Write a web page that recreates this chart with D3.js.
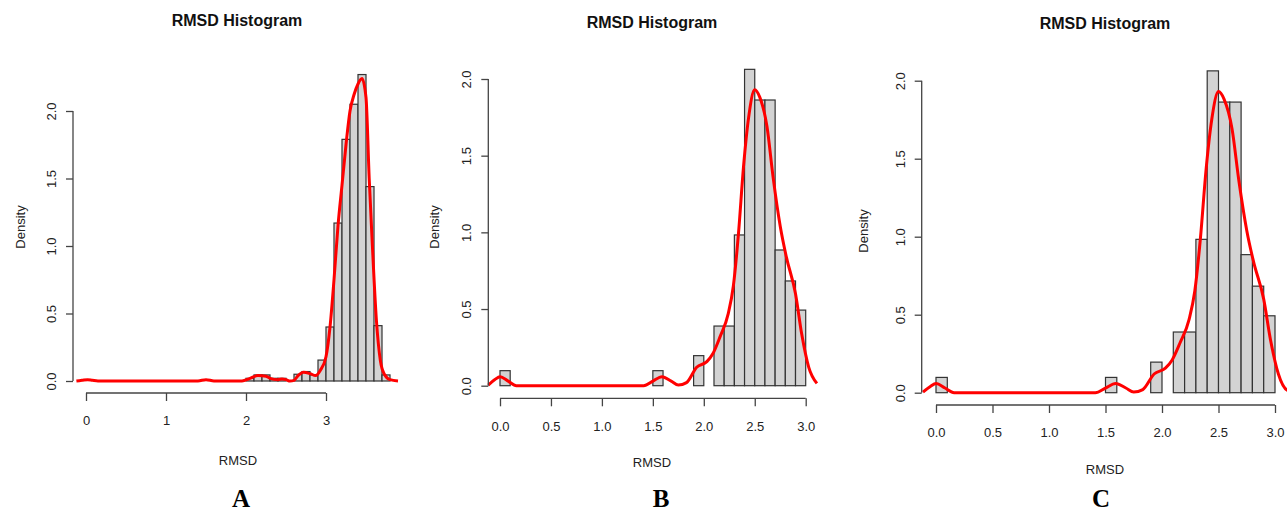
<!DOCTYPE html>
<html>
<head>
<meta charset="utf-8">
<script src="https://cdn.jsdelivr.net/npm/d3@7"></script>
<style>
  body { margin: 0; background: #fff; }
  svg { display: block; }
  .tick text { font-family: "Liberation Sans", Arial, sans-serif; fill: #222; }
</style>
</head>
<body>
<script>
'use strict';

// panel A histogram (bin width 0.1)
const binsA = [2.0, 2.1, 2.2, 2.3, 2.4, 2.6, 2.7, 2.8, 2.9, 3.0, 3.1, 3.2, 3.3, 3.4, 3.5, 3.6, 3.7];
const densA = [0.02, 0.045, 0.045, 0.02, 0.02, 0.05, 0.07, 0.045, 0.155, 0.40, 1.17, 1.79, 2.05, 2.27, 1.44, 0.41, 0.045];
// panel A density curve
const kxA = [-0.12, -0.05, 0.02, 0.08, 0.15, 1.4, 1.5, 1.6, 1.95, 2.05, 2.15, 2.25, 2.3, 2.4, 2.45, 2.5, 2.55, 2.6, 2.65, 2.72, 2.8, 2.87, 2.93, 3.0, 3.05, 3.1, 3.15, 3.2, 3.25, 3.3, 3.35, 3.4, 3.45, 3.5, 3.54, 3.58, 3.63, 3.68, 3.73, 3.8, 3.9];
const kyA = [0, 0.005, 0.01, 0.005, 0, 0, 0.01, 0, 0, 0.02, 0.04, 0.035, 0.02, 0.01, 0.015, 0.01, 0, 0.005, 0.04, 0.065, 0.055, 0.04, 0.08, 0.18, 0.4, 0.75, 1.15, 1.45, 1.75, 2.0, 2.12, 2.2, 2.24, 2.1, 1.5, 1.0, 0.45, 0.15, 0.05, 0.01, 0];

// panel B histogram
const binsB = [0.0, 1.5, 1.9, 2.1, 2.2, 2.3, 2.4, 2.5, 2.6, 2.7, 2.8, 2.9];
const densB = [0.098, 0.098, 0.196, 0.389, 0.389, 0.983, 2.063, 1.863, 1.863, 0.885, 0.683, 0.493];
const kxB = [-0.115, -0.05, 0.0, 0.08, 0.16, 1.41, 1.5, 1.59, 1.68, 1.75, 1.83, 1.93, 2.03, 2.09, 2.16, 2.24, 2.29, 2.34, 2.39, 2.44, 2.5, 2.55, 2.62, 2.68, 2.75, 2.81, 2.9, 2.96, 3.03, 3.11];
const kyB = [0.004, 0.04, 0.059, 0.03, 0, 0, 0.03, 0.059, 0.03, 0.004, 0.02, 0.12, 0.157, 0.21, 0.32, 0.47, 0.65, 0.99, 1.43, 1.75, 1.93, 1.88, 1.69, 1.36, 1.04, 0.84, 0.6, 0.34, 0.12, 0.015];

// panel C histogram (same run as B)
const binsC = [0.0, 1.5, 1.9, 2.1, 2.2, 2.3, 2.4, 2.5, 2.6, 2.7, 2.8, 2.9];
const densC = [0.098, 0.098, 0.196, 0.389, 0.389, 0.983, 2.063, 1.863, 1.863, 0.885, 0.683, 0.493];
const kxC = [-0.115, -0.05, 0.0, 0.08, 0.16, 1.41, 1.5, 1.59, 1.68, 1.75, 1.83, 1.93, 2.03, 2.09, 2.16, 2.24, 2.29, 2.34, 2.39, 2.44, 2.5, 2.55, 2.62, 2.68, 2.75, 2.81, 2.9, 2.96, 3.03, 3.11, 3.2];
const kyC = [0.004, 0.04, 0.059, 0.03, 0, 0, 0.03, 0.059, 0.03, 0.004, 0.02, 0.12, 0.157, 0.21, 0.32, 0.47, 0.65, 0.99, 1.43, 1.75, 1.93, 1.88, 1.69, 1.36, 1.04, 0.84, 0.6, 0.34, 0.12, 0.015, 0];

const xTicksA = [0, 1, 2, 3];
const xTicksBC = [0, 0.5, 1.0, 1.5, 2.0, 2.5, 3.0];
const yTicks = [0, 0.5, 1.0, 1.5, 2.0];
const binWidth = 0.1;

const svg = d3.select('body').append('svg')
  .attr('width', 1287)
  .attr('height', 511);

// one R-style histogram panel
function drawPanel(p) {
  let g = svg.append('g');
  let x = d3.scaleLinear().domain([0, 3]).range(p.xr);
  let y = d3.scaleLinear().domain([0, 2]).range(p.yr);

  // bars
  g.selectAll('rect')
    .data(p.bins.map((b, i) => ({ x0: b, d: p.dens[i] })))
    .enter()
    .append('rect')
    .attr('x', d => x(d.x0))
    .attr('y', d => y(d.d))
    .attr('width', d => x(d.x0 + binWidth) - x(d.x0))
    .attr('height', d => y(0) - y(d.d))
    .attr('fill', '#d3d3d3')
    .attr('stroke', '#333')
    .attr('stroke-width', 1.2);

  // density curve
  let line = d3.line()
    .x(d => x(d[0]))
    .y(d => y(d[1]))
    .curve(d3.curveMonotoneX);
  g.append('path')
    .datum(p.kx.map((v, i) => [v, p.ky[i]]))
    .attr('d', line)
    .attr('fill', 'none')
    .attr('stroke', '#ff0000')
    .attr('stroke-width', 3);

  // y axis
  let yAxis = d3.axisLeft(y).tickValues(yTicks).tickFormat(d3.format('.1f'))
    .tickSizeOuter(0).tickSize(7);
  let ya = g.append('g')
    .attr('transform', 'translate(' + p.yAxisX + ',0)')
    .call(yAxis);
  ya.select('.domain').attr('d', 'M0,' + y(0) + 'V' + y(2));
  ya.selectAll('line, .domain').attr('stroke', '#444').attr('stroke-width', 1.3);
  ya.selectAll('text')
    .attr('x', 0).attr('y', -17).attr('dy', 0)
    .attr('transform', 'rotate(-90)')
    .attr('text-anchor', 'middle')
    .style('font-size', '13px');

  // x axis
  let xAxis = d3.axisBottom(x).tickValues(p.xTicks).tickFormat(p.xFmt)
    .tickSizeOuter(0).tickSize(8);
  let xa = g.append('g')
    .attr('transform', 'translate(0,' + p.xAxisY + ')')
    .call(xAxis);
  xa.select('.domain').attr('d', 'M' + x(p.xTicks[0]) + ',0H' + x(p.xTicks[p.xTicks.length - 1]));
  xa.selectAll('line, .domain').attr('stroke', '#444').attr('stroke-width', 1.3);
  xa.selectAll('text')
    .attr('y', 23)
    .style('font-size', '13px');

  // labels
  g.append('text')
    .attr('x', p.title[0]).attr('y', p.title[1])
    .attr('text-anchor', 'middle')
    .attr('dominant-baseline', 'central')
    .style('font-family', '"Liberation Sans Narrow", "Liberation Sans", Arial, sans-serif')
    .style('font-weight', 'bold')
    .style('font-size', '16px')
    .attr('fill', '#111')
    .text('RMSD Histogram');

  g.append('text')
    .attr('x', p.xlab[0]).attr('y', p.xlab[1])
    .attr('text-anchor', 'middle')
    .attr('dominant-baseline', 'central')
    .style('font-family', '"Liberation Sans", Arial, sans-serif')
    .style('font-size', '13px')
    .attr('fill', '#222')
    .text('RMSD');

  g.append('text')
    .attr('transform', 'translate(' + p.ylab[0] + ',' + p.ylab[1] + ')rotate(-90)')
    .attr('text-anchor', 'middle')
    .attr('dominant-baseline', 'central')
    .style('font-family', '"Liberation Sans", Arial, sans-serif')
    .style('font-size', '13px')
    .attr('fill', '#222')
    .text('Density');

  g.append('text')
    .attr('x', p.letter[0]).attr('y', p.letter[1])
    .attr('text-anchor', 'middle')
    .style('font-family', '"Liberation Serif", "Times New Roman", serif')
    .style('font-weight', 'bold')
    .style('font-size', '25px')
    .attr('fill', '#000')
    .text(p.name);
}

drawPanel({
  name: 'A', bins: binsA, dens: densA, kx: kxA, ky: kyA,
  xr: [86, 326], yr: [381, 111], yAxisX: 73, xAxisY: 393,
  xTicks: xTicksA, xFmt: d3.format('d'),
  title: [237, 20], xlab: [238, 460], ylab: [20, 227], letter: [241, 507]
});

drawPanel({
  name: 'B', bins: binsB, dens: densB, kx: kxB, ky: kyB,
  xr: [500, 805.7], yr: [385.7, 79], yAxisX: 488.3, xAxisY: 398.3,
  xTicks: xTicksBC, xFmt: d3.format('.1f'),
  title: [652, 22], xlab: [652, 462], ylab: [434, 227], letter: [661, 507]
});

drawPanel({
  name: 'C', bins: binsC, dens: densC, kx: kxC, ky: kyC,
  xr: [936, 1275], yr: [392.7, 80.7], yAxisX: 921.7, xAxisY: 405,
  xTicks: xTicksBC, xFmt: d3.format('.1f'),
  title: [1105, 23], xlab: [1105, 469], ylab: [863, 231], letter: [1101, 507]
});
</script>
</body>
</html>
